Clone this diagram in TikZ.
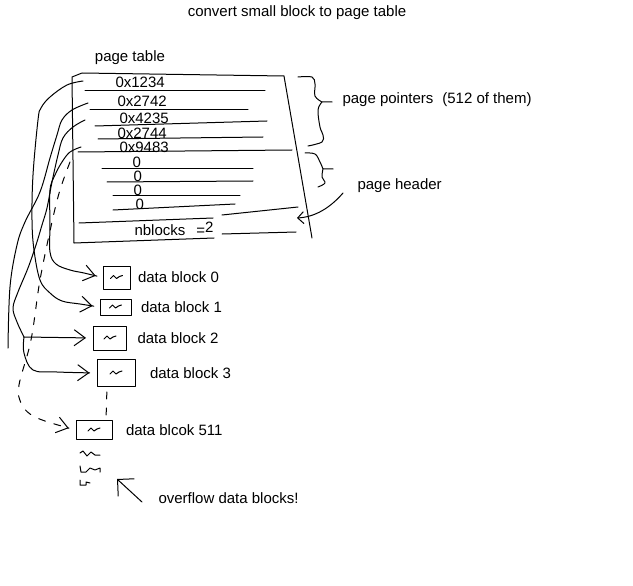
\documentclass[tikz,border=0pt]{standalone}
\usepackage{fontspec}
\setmainfont{Liberation Sans}
\usetikzlibrary{positioning,arrows.meta}

\tikzset{
  txt/.style={inner sep=0pt, font=\fontsize{15}{18}\selectfont},
  lbl/.style={txt, anchor=west},
  blk/.style={draw, inner sep=0pt},
  ptr/.style={-{Straight Barb[length=11pt,width=16pt]}, shorten >=7pt},
  dots/.style={dash pattern=on 7pt off 9pt},
}
\newcommand\wiggle[1]{\draw[shift={(#1.center)}] (-6,1) -- (-3,-2) -- (0,1) -- (3,-1) -- (6,-2);}

\begin{document}
\begin{tikzpicture}[x=1pt, y=-1pt, line width=1pt, line join=round, line cap=round]
    \useasboundingbox (0,0) rectangle (633,586);
    % titles
    \node[txt] (title) at (297,13) {convert small block to page table};
    \node[txt] (ptname) at (130,58) {page table};
    % table outline and rows
    \draw (74,243) -- (72,77) -- (82,73) -- (284,76) -- (312,238);
    \draw (74,243) -- (214,238);
    \draw (222,234) -- (296,232);
    \foreach \xa/\ya/\xb/\yb in {85/91/265/91, 90/110/248/110, 95/126/267/121, 98/139/263/137,
        78/152/292/150, 102/169/253/169, 107/182/253/181, 113/195/240/195, 113/210/235/204,
        79/223/213/218, 222/215/298/207}
        \draw (\xa,\ya) -- (\xb,\yb);
    % row values
    \node[lbl] (v1) at (115,82) {0x1234};
    \node[lbl] (v2) at (117,101) {0x2742};
    \node[lbl] (v3) at (119,118) {0x4235};
    \node[lbl] (v4) at (117,133) {0x2744};
    \node[lbl] (v5) at (119,147) {0x9483};
    \node[lbl] (z1) at (132,162) {0};
    \node[lbl] (z2) at (133,176) {0};
    \node[lbl] (z3) at (133,190) {0};
    \node[lbl] (z4) at (135,204) {0};
    \node[lbl] (nb) at (134,229) {nblocks\hspace{11pt}=\raisebox{3pt}{2}};
    % braces
    \coordinate (ppt) at (332,102);
    \coordinate (pht) at (333,169);
    \draw plot[smooth, tension=.6] coordinates {(298,77) (312,77) (315,84) (315,96) (322,102)} -- (ppt);
    \draw plot[smooth, tension=.6] coordinates {(322,102) (318,110) (320,127) (323,135) (322,142) (308,146)};
    \draw plot[smooth, tension=.6] coordinates {(305,153) (315,154) (320,162) (323,169)} -- (pht);
    \draw plot[smooth, tension=.6] coordinates {(323,169) (322,177) (325,183) (318,187)};
    \node[lbl] (ptrs) at (342,100) {page pointers\hspace{9pt}(512 of them)};
    \node[lbl] (hdr) at (357,186) {page header};
    \coordinate (hdrtip) at (297,218);
    \draw[-{Straight Barb[length=6pt,width=12pt]}] ([xshift=-14pt,yshift=-7pt]hdr.west)
        .. controls (330,208) and (315,217) .. (hdrtip);
    % data blocks
    \node[blk, minimum width=27pt, minimum height=23pt] (blk0) at (116.5,277.5) {};
    \node[blk, minimum width=31pt, minimum height=16pt] (blk1) at (115.5,307) {};
    \node[blk, minimum width=33pt, minimum height=24pt] (blk2) at (110,338) {};
    \node[blk, minimum width=38pt, minimum height=27pt] (blk3) at (116,373) {};
    \node[blk, minimum width=36pt, minimum height=19pt] (blk511) at (94,430) {};
    \node[lbl, right=7pt of blk0] (d0) {data block 0};
    \node[lbl, right=9pt of blk1] (d1) {data block 1};
    \node[lbl, right=10pt of blk2] (d2) {data block 2};
    \node[lbl, right=14pt of blk3] (d3) {data block 3};
    \node[lbl, right=13pt of blk511] (d511) {data blcok 511};
    \foreach \b in {blk0,blk1,blk2,blk3,blk511}
        \wiggle{\b};
    \draw[dots, shorten <=5pt, shorten >=5pt] ([xshift=-9pt]blk3.south) -- ([xshift=12pt]blk511.north);
    % pointers
    \coordinate (r1) at (83,81);
    \coordinate (r2) at (88,103);
    \coordinate (r3) at (85,120);
    \coordinate (r4) at (81,147);
    \coordinate (r5) at (70,162);
    \coordinate (e2) at (8,348);
    \coordinate (fork) at (24,337);
    \draw[ptr] plot[smooth, tension=.6] coordinates {(r1) (67,85) (50,97) (41,108) (38,120) (33,175)
        (32,220) (34,250) (40,280) (50,293) (62,301) (80,304) (blk1.west)};
    \draw plot[smooth, tension=.6] coordinates {(r2) (72,110) (62,120) (57,135) (50,158) (40,192)
        (25,222) (17,245) (10,287) (e2)};
    \draw plot[smooth, tension=.6] coordinates {(r3) (73,127) (63,138) (58,155) (52,182) (47,208)
        (42,225) (36,245) (28,268) (18,292) (13,308) (17,322) (fork)};
    \draw[ptr] (fork) -- (blk2.west);
    \draw[ptr] plot[smooth, tension=.6] coordinates {(fork) (24,353) (33,370) (57,372) (blk3.west)};
    \draw[ptr] plot[smooth, tension=.6] coordinates {(r4) (70,152) (62,162) (55,175) (50,190)
        (50,225) (50,252) (56,264) (70,270) (84,273) (blk0.west)};
    \draw[ptr, dots] plot[smooth, tension=.6] coordinates {(r5) (60,190) (52,222) (40,280) (31,340)
        (19,385) (21,403) (30,414) (45,421) (blk511.west)};
    % overflow blocks
    \draw (80,453) -- (83,451) -- (87,456) -- (91,452) -- (95,455) -- (100,455);
    \draw (80,466) -- (81,472) -- (86,472) -- (90,468) -- (95,470) -- (100,468) -- (100,472);
    \draw (80,480) -- (80,485) -- (86,485) -- (86,482) -- (90,483);
    \node[lbl] (ovf) at (158,498) {overflow data blocks!};
    \coordinate (ovfend) at (117,479);
    \draw[-{Straight Barb[length=12pt,width=24pt]}] ([xshift=-16pt,yshift=-4pt]ovf.west) -- (ovfend);
\end{tikzpicture}
\end{document}
